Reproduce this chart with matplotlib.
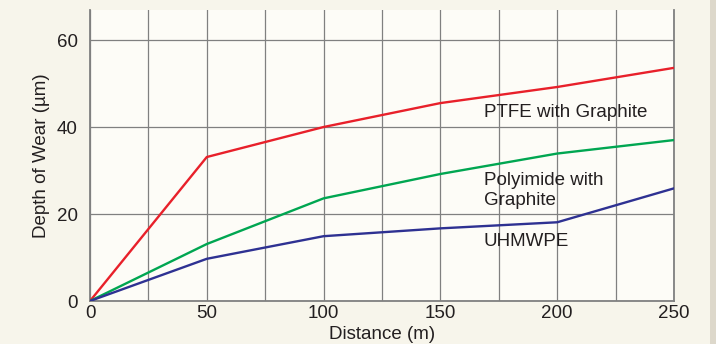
import matplotlib.pyplot as plt
from matplotlib.patches import Rectangle

plt.rcParams['font.family'] = ['Liberation Sans', 'DejaVu Sans']

# data
distance = [0, 50, 100, 150, 200, 250]
ptfe = [0, 33.1, 40.0, 45.5, 49.2, 53.6]
polyimide = [0, 13.1, 23.6, 29.2, 33.9, 37.0]
uhmwpe = [0, 9.7, 14.9, 16.7, 18.1, 25.9]

x_ticks = [0, 50, 100, 150, 200, 250]
y_ticks = [0, 20, 40, 60]

fig = plt.figure(figsize=(7.16, 3.44), dpi=100, facecolor='#f7f5eb')
ax = fig.add_axes([90 / 716, 43 / 344, 584 / 716, 291 / 344])
ax.set_facecolor('#fdfcf7')

# thin strip at the right edge of the picture
fig.patches.append(Rectangle((710 / 716, 0), 6 / 716, 1, transform=fig.transFigure,
                             facecolor='#ddd8cb', edgecolor='none'))

ax.plot(distance, ptfe, color='#e8202a', lw=1.7, zorder=3)
ax.plot(distance, polyimide, color='#00a651', lw=1.7, zorder=3)
ax.plot(distance, uhmwpe, color='#2e3192', lw=1.7, zorder=3)

ax.set_xlim(0, 250)
ax.set_ylim(0, 66.9)
ax.set_xticks(x_ticks)
ax.set_yticks(y_ticks)
ax.set_xticks(range(25, 250, 50), minor=True)
ax.grid(True, which='both', color='#808080', lw=0.9, zorder=1)
ax.tick_params(which='both', length=0, labelsize=13.5, colors='#231f20')
ax.tick_params(axis='x', pad=3)
ax.tick_params(axis='y', pad=9)

ax.spines['top'].set_visible(False)
for side in ['left', 'right', 'bottom']:
    ax.spines[side].set_color('#808080')
    ax.spines[side].set_linewidth(1.3)

ax.set_xlabel('Distance (m)', fontsize=13.5, color='#231f20', labelpad=3)
ax.set_ylabel('Depth of Wear (µm)', fontsize=13.5, color='#231f20', labelpad=5)

ax.text(168.5, 43.3, 'PTFE with Graphite', fontsize=13.5, color='#231f20', va='center')
ax.text(168.5, 25.4, 'Polyimide with\nGraphite', fontsize=13.5, color='#231f20',
        va='center', linespacing=1.25)
ax.text(168.5, 13.6, 'UHMWPE', fontsize=13.5, color='#231f20', va='center')

fig.savefig('out.png', dpi=100, facecolor=fig.get_facecolor())
